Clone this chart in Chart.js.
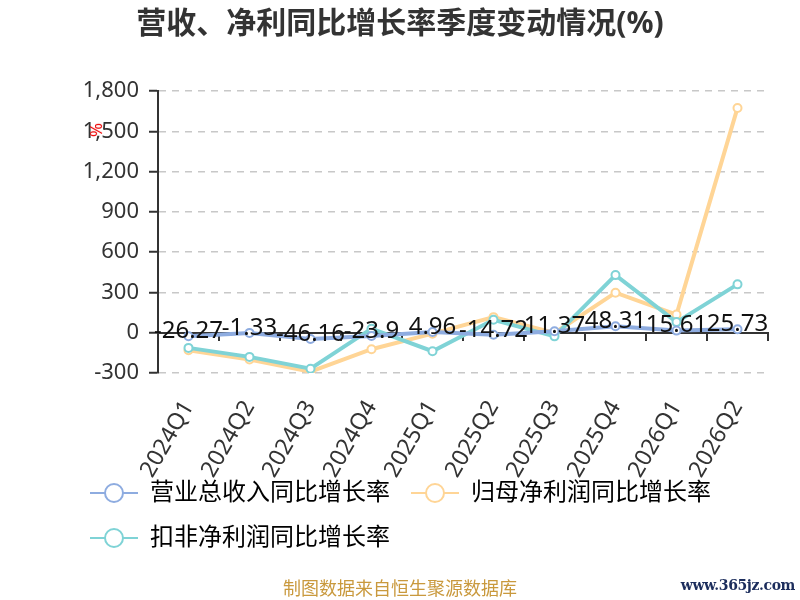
<!DOCTYPE html>
<html>
<head>
<meta charset="utf-8">
<script src="https://cdn.jsdelivr.net/npm/chart.js@4.4.1/dist/chart.umd.min.js"></script>
<style>
  body { margin: 0; background: #fff; }
  #wrap { position: relative; width: 800px; height: 600px; font-family: 'Noto Sans', 'Noto Sans CJK SC', sans-serif; }
  #title { position: absolute; left: 0; top: 3px; width: 800px; text-align: center; font-size: 30px; font-weight: bold; color: #333; line-height: 38px; }
  #pct { position: absolute; left: 89px; top: 120px; color: #e00; font-size: 17px; transform: rotate(90deg); line-height: 20px; }
  #source { position: absolute; left: 0; top: 576px; width: 800px; text-align: center; font-size: 18px; color: #c9993d; line-height: 24px; }
  #site { position: absolute; right: 5px; top: 574px; font-family: 'DejaVu Serif', serif; font-size: 14px; font-weight: bold; color: #1c2d5c; line-height: 22px; letter-spacing: -0.4px; }
</style>
</head>
<body>
<div id="wrap">
  <canvas id="growthChart" width="800" height="600"></canvas>
  <div id="title">营收、净利同比增长率季度变动情况(%)</div>
  <div id="pct">%</div>
  <div id="source">制图数据来自恒生聚源数据库</div>
  <div id="site">www.365jz.com</div>
</div>
<script>
// Quarters and growth rates (%)
const quarters = ['2024Q1', '2024Q2', '2024Q3', '2024Q4', '2025Q1', '2025Q2', '2025Q3', '2025Q4', '2026Q1', '2026Q2'];
const revenueGrowth = [-26.27, -1.33, -46.16, -23.9, 4.96, -14.72, 11.37, 48.31, 15.61, 25.73];
const netProfitGrowth = [-130, -200, -290, -123, -7, 116, -2, 298, 135, 1674];
const deductedProfitGrowth = [-113, -180, -268, 30, -138, 96, -27, 429, 79, 360];
const yTicks = { min: -300, max: 1800, step: 300 };

const seriesNames = ['营业总收入同比增长率', '归母净利润同比增长率', '扣非净利润同比增长率'];
const seriesColors = ['#8EACE0', '#FFD596', '#7FD3D6'];

const FONT = "'Noto Sans', 'Noto Sans CJK SC', sans-serif";

// Legend symbol: short line with a hollow circle
function makeSymbol(color) {
  const c = document.createElement('canvas');
  c.width = 48;
  c.height = 24;
  const g = c.getContext('2d');
  g.strokeStyle = color;
  g.lineWidth = 2;
  g.beginPath();
  g.moveTo(0, 12);
  g.lineTo(48, 12);
  g.stroke();
  g.beginPath();
  g.arc(24, 12, 9, 0, Math.PI * 2);
  g.fillStyle = '#fff';
  g.fill();
  g.stroke();
  return c;
}
const symbols = seriesColors.map(makeSymbol);

function lineSet(label, data, color, order) {
  return {
    label: label,
    data: data,
    borderColor: color,
    backgroundColor: '#fff',
    borderWidth: 4,
    pointRadius: 4,
    pointBorderWidth: 2,
    pointBackgroundColor: '#fff',
    pointBorderColor: color,
    tension: 0,
    order: order
  };
}

// Value labels above the revenue series
const valueLabels = {
  id: 'valueLabels',
  afterLayout(chart) {
    // let the rotated labels run past the fixed axis height instead of being clipped
    const x = chart.scales.x;
    x.bottom = x.top + 120;
  },
  afterDatasetsDraw(chart) {
    const ctx = chart.ctx;
    const meta = chart.getDatasetMeta(0);
    ctx.save();
    ctx.font = '24px ' + FONT;
    ctx.fillStyle = '#111';
    ctx.textAlign = 'center';
    ctx.textBaseline = 'middle';
    meta.data.forEach((pt, i) => {
      ctx.fillText(String(revenueGrowth[i]), pt.x, pt.y - 5);
    });
    ctx.restore();
  }
};

const ctx = document.getElementById('growthChart').getContext('2d');
const chart = new Chart(ctx, {
  type: 'line',
  data: {
    labels: quarters,
    datasets: [
      lineSet(seriesNames[0], revenueGrowth, seriesColors[0], 0),
      lineSet(seriesNames[1], netProfitGrowth, seriesColors[1], 2),
      lineSet(seriesNames[2], deductedProfitGrowth, seriesColors[2], 1)
    ]
  },
  options: {
    responsive: false,
    animation: false,
    devicePixelRatio: 1,
    layout: { padding: { left: 69, right: 32, top: 91, bottom: 40 } },
    scales: {
      x: {
        offset: true,
        grid: { display: false },
        border: { display: false },
        ticks: {
          color: '#333',
          font: { family: FONT, size: 23 },
          minRotation: 60,
          maxRotation: 60,
          padding: 15,
          autoSkip: false
        },
        afterFit: (s) => { s.height = 87; }
      },
      xZero: {
        axis: 'x',
        type: 'category',
        position: { y: 0 },
        offset: true,
        grid: { offset: true, drawOnChartArea: false, color: '#333', tickLength: 7, lineWidth: 2 },
        border: { color: '#333', width: 2 },
        ticks: { display: false }
      },
      y: {
        min: yTicks.min,
        max: yTicks.max,
        ticks: {
          stepSize: yTicks.step,
          color: '#333',
          font: { family: FONT, size: 22 },
          padding: 10
        },
        grid: {
          color: (c) => (c.tick && c.tick.value === 0 ? 'rgba(0,0,0,0)' : '#c8c8c8'),
          lineWidth: 1.5,
          tickColor: '#333',
          tickLength: 9,
          tickWidth: 2
        },
        border: { color: '#333', width: 2, dash: [7, 6] },
        afterFit: (s) => { s.width = 89; }
      }
    },
    plugins: {
      title: { display: false },
      tooltip: { enabled: false },
      legend: {
        display: true,
        position: 'bottom',
        align: 'start',
        labels: {
          color: '#333',
          font: { family: FONT, size: 24 },
          usePointStyle: true,
          pointStyleWidth: 48,
          padding: 21,
          generateLabels: (ch) => ch.data.datasets.map((ds, i) => ({
            text: ds.label,
            pointStyle: symbols[i],
            fillStyle: '#fff',
            strokeStyle: seriesColors[i],
            lineWidth: 0,
            hidden: false,
            datasetIndex: i
          }))
        }
      }
    }
  },
  plugins: [valueLabels]
});
</script>
</body>
</html>
